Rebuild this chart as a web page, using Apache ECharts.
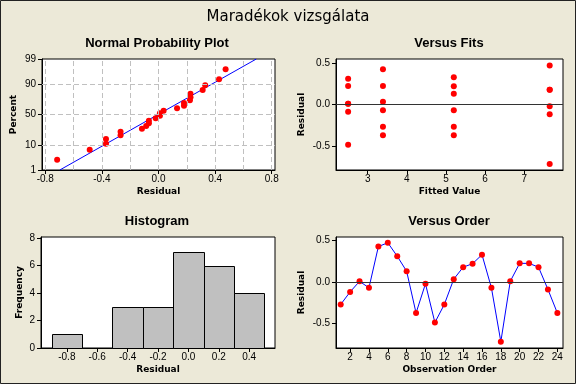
<!DOCTYPE html>
<html><head><meta charset="utf-8">
<script src="https://cdn.jsdelivr.net/npm/echarts@6/dist/echarts.min.js"></script>
<style>html,body{margin:0;padding:0;background:#ECE9D8}#c{width:576px;height:384px}</style>
</head><body><div id="c"></div><script>
// residuals in observation order
const residuals = [-0.268, -0.117, 0.010, -0.068, 0.428, 0.474, 0.312, 0.131, -0.371, -0.020,
                   -0.486, -0.268, 0.036, 0.180, 0.222, 0.330, -0.068, -0.716, 0.010, 0.226,
                   0.226, 0.180, -0.087, -0.371];
// fitted values in observation order
const fitted = [3.39, 7.65, 2.50, 3.39, 3.39, 7.65, 2.50, 5.20, 3.39, 7.65,
                2.50, 5.20, 3.39, 7.65, 5.20, 5.20, 5.20, 7.65, 2.50, 3.39,
                2.50, 7.65, 2.50, 5.20];
const pctTicks = [1, 10, 50, 90, 99];
const pctGrid = [10, 50, 90];
const nppXTicks = [-0.8, -0.4, 0, 0.4, 0.8];
const nppXGrid = [-0.8, -0.6, -0.4, -0.2, 0, 0.2, 0.4, 0.6, 0.8];
const fitTicks = [3, 4, 5, 6, 7];
const resTicks = [-0.5, 0, 0.5];
const binCenters = [-0.8, -0.6, -0.4, -0.2, 0, 0.2, 0.4];
const binWidth = 0.2;
const freqTicks = [0, 2, 4, 6, 8];
const orderTicks = [2, 4, 6, 8, 10, 12, 14, 16, 18, 20, 22, 24];

function invNorm(p){
  const a=[-3.969683028665376e+01,2.209460984245205e+02,-2.759285104469687e+02,1.383577518672690e+02,-3.066479806614716e+01,2.506628277459239e+00];
  const b=[-5.447609879822406e+01,1.615858368580409e+02,-1.556989798598866e+02,6.680131188771972e+01,-1.328068155288572e+01];
  const c=[-7.784894002430293e-03,-3.223964580411365e-01,-2.400758277161838e+00,-2.549732539343734e+00,4.374664141464968e+00,2.938163982698783e+00];
  const d=[7.784695709041462e-03,3.224671290700398e-01,2.445134137142996e+00,3.754408661907416e+00];
  const pl=0.02425, ph=1-pl; let q,r;
  if(p<pl){q=Math.sqrt(-2*Math.log(p));return (((((c[0]*q+c[1])*q+c[2])*q+c[3])*q+c[4])*q+c[5])/((((d[0]*q+d[1])*q+d[2])*q+d[3])*q+1);}
  if(p<=ph){q=p-0.5;r=q*q;return (((((a[0]*r+a[1])*r+a[2])*r+a[3])*r+a[4])*r+a[5])*q/(((((b[0]*r+b[1])*r+b[2])*r+b[3])*r+b[4])*r+1);}
  q=Math.sqrt(-2*Math.log(1-p));return -(((((c[0]*q+c[1])*q+c[2])*q+c[3])*q+c[4])*q+c[5])/((((d[0]*q+d[1])*q+d[2])*q+d[3])*q+1);
}

const n = residuals.length;
const sorted = residuals.slice().sort((x,y)=>x-y);
const nppData = sorted.map((r,i)=>[r, invNorm((i+1-0.3)/(n+0.4))]);
const mean = residuals.reduce((s,v)=>s+v,0)/n;
const sd = Math.sqrt(residuals.reduce((s,v)=>s+(v-mean)*(v-mean),0)/(n-1));
const zLo = invNorm(pctTicks[0]/100), zHi = invNorm(pctTicks[pctTicks.length-1]/100);
const pctZ = pctTicks.map(p=>invNorm(p/100));
const fitLine = [[mean+sd*zLo, zLo],[mean+sd*zHi, zHi]];
const counts = binCenters.map(cn => residuals.filter(r => r >= cn-binWidth/2 && r < cn+binWidth/2).length);

const LBL = {color:'#000', fontFamily:'Liberation Sans', fontSize:10};
const NAME = {fontFamily:'DejaVu Sans', fontWeight:'bold', fontSize:9, color:'#000'};
function ax(gi, min, max, ticks, fmt, name, gap, isY){
  return {
    type:'value', gridIndex:gi, min:min, max:max, name:name, nameLocation:'middle', nameGap:gap,
    nameTextStyle:NAME,
    axisLine:{show:true, onZero:false, lineStyle:{color:'#000', width:1}},
    axisTick:{show:true, length:4, customValues:ticks, lineStyle:{color:'#000', width:1}},
    axisLabel:Object.assign({customValues:ticks, formatter:fmt, margin:isY?6:4}, LBL),
    splitLine:{show:false}
  };
}
const f1 = v => (Math.round(v*10)/10).toFixed(1);
const fInt = v => String(Math.round(v));
const fPct = v => { let best=0; pctZ.forEach((z,i)=>{ if(Math.abs(z-v)<Math.abs(pctZ[best]-v)) best=i; }); return String(pctTicks[best]); };

const grids = [
  {left:42, top:59, width:233, height:111},
  {left:336, top:59, width:227, height:111},
  {left:41, top:237, width:234, height:111},
  {left:336, top:237, width:227, height:111}
].map(g=>Object.assign({show:true, backgroundColor:'#fff', borderColor:'#000', borderWidth:1, containLabel:false}, g));

const dashed = {color:'#c0c0c0', type:[5,3], width:1};
const zeroLine = {color:'#333', type:'solid', width:1};
function ml(data, style){ return {silent:true, symbol:['none','none'], label:{show:false}, lineStyle:style, emphasis:{disabled:true}, data:data, animation:false}; }

const titleFont = 'bold 13px "Liberation Sans"';
function txt(t, x, y, font){ return {type:'text', x:x, y:y, style:{text:t, font:font, fill:'#000', textAlign:'center', textVerticalAlign:'middle', verticalAlign:'middle'}}; }

const option = {
  backgroundColor:'#ECE9D8',
  animation:false,
  graphic:[
    {type:'rect', shape:{x:0.5, y:0.5, width:575, height:383}, style:{fill:'none', stroke:'#222', lineWidth:1}},
    txt('Maradékok vizsgálata', 288, 17, '15px "DejaVu Sans"'),
    txt('Normal Probability Plot', 157, 43, titleFont),
    txt('Versus Fits', 449, 43, titleFont),
    txt('Histogram', 157, 221, titleFont),
    txt('Versus Order', 449, 221, titleFont)
  ],
  grid:grids,
  xAxis:[
    ax(0, -0.823, 0.823, nppXTicks, f1, 'Residual', 17, false),
    ax(1, 2.19, 7.99, fitTicks, fInt, 'Fitted Value', 17, false),
    ax(2, -0.97, 0.57, binCenters, f1, 'Residual', 17, false),
    ax(3, 0.5, 24.6, orderTicks, fInt, 'Observation Order', 17, false)
  ],
  yAxis:[
    ax(0, zLo, zHi, pctZ, fPct, 'Percent', 24, true),
    ax(1, -0.79, 0.552, resTicks, f1, 'Residual', 30, true),
    ax(2, 0, 8.08, freqTicks, fInt, 'Frequency', 17, true),
    ax(3, -0.792, 0.543, resTicks, f1, 'Residual', 30, true)
  ],
  series:[
    {type:'line', xAxisIndex:0, yAxisIndex:0, data:[], z:1,
     markLine:ml(nppXGrid.map(v=>({xAxis:v})).concat(pctGrid.map(p=>({yAxis:invNorm(p/100)}))), dashed)},
    {type:'line', xAxisIndex:0, yAxisIndex:0, data:fitLine, symbol:'none', z:2,
     lineStyle:{color:'#0000ff', width:1}},
    {type:'scatter', xAxisIndex:0, yAxisIndex:0, data:nppData, symbolSize:6, z:3,
     itemStyle:{color:'#ff0000', opacity:1}},
    {type:'line', xAxisIndex:1, yAxisIndex:1, data:[], z:1, markLine:ml([{yAxis:0}], zeroLine)},
    {type:'scatter', xAxisIndex:1, yAxisIndex:1, data:residuals.map((r,i)=>[fitted[i], r]), symbolSize:6, z:3,
     itemStyle:{color:'#ff0000', opacity:1}},
    {type:'custom', xAxisIndex:2, yAxisIndex:2, z:2,
     data:binCenters.map((c,i)=>[c, counts[i]]),
     renderItem:function(params, api){
       const c = api.value(0), h = api.value(1);
       if(!h) return null;
       const p1 = api.coord([c-binWidth/2, h]);
       const p2 = api.coord([c+binWidth/2, 0]);
       return {type:'rect', shape:{x:Math.round(p1[0])+0.5, y:Math.round(p1[1])+0.5, width:Math.round(p2[0])-Math.round(p1[0]), height:Math.round(p2[1])-Math.round(p1[1])},
               style:{fill:'#c0c0c0', stroke:'#000', lineWidth:1}};
     }},
    {type:'line', xAxisIndex:3, yAxisIndex:3, data:[], z:1, markLine:ml([{yAxis:0}], zeroLine)},
    {type:'line', xAxisIndex:3, yAxisIndex:3, data:residuals.map((r,i)=>[i+1, r]), z:3,
     symbol:'circle', symbolSize:6, showAllSymbol:true,
     lineStyle:{color:'#0000ff', width:1}, itemStyle:{color:'#ff0000', opacity:1}}
  ]
};
const chart = echarts.init(document.getElementById('c'), null, {renderer:'canvas'});
chart.setOption(option);
</script></body></html>
